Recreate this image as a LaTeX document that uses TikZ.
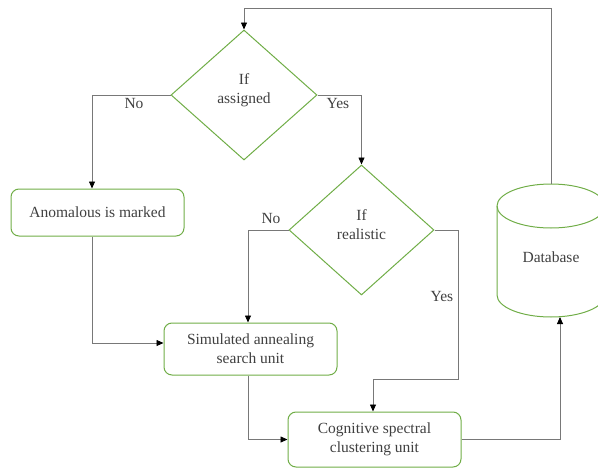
\documentclass[tikz,border=0pt]{standalone}
\usepackage{fontspec}
\setmainfont{Liberation Serif}
\usetikzlibrary{shapes.geometric,arrows.meta}
\definecolor{boxgreen}{RGB}{112,173,71}
\definecolor{txtgray}{RGB}{64,64,64}
\definecolor{linegray}{RGB}{120,120,120}
\tikzset{
  box/.style={draw=boxgreen, line width=1pt, rounded corners=8pt, inner sep=0pt, text=txtgray, align=center, font=\fontsize{15.5}{19}\selectfont},
  decision/.style={draw=boxgreen, line width=1pt, diamond, inner sep=0pt},
  lbl/.style={text=txtgray, align=center, font=\fontsize{15.5}{19}\selectfont, inner sep=0pt},
  conn/.style={draw=linegray, line width=0.8pt, -{Triangle[length=7pt,width=6pt,fill=black,color=black]}},
  plain/.style={draw=linegray, line width=0.8pt}
}
\begin{document}
\begin{tikzpicture}[x=1pt,y=-1pt]
\useasboundingbox (0,0) rectangle (598,469);
% decisions
\node[decision, minimum width=146pt, minimum height=130pt] (d1) at (244,95) {};
\node[lbl] (d1t) at (244,90) {If\\assigned};
\node[decision, minimum width=145pt, minimum height=130pt] (d2) at (361.5,230) {};
\node[lbl] (d2t) at (361.5,225) {If\\realistic};
% boxes
\node[box, minimum width=173pt, minimum height=47pt] (an) at (97.5,212.5) {Anomalous is marked};
\node[box, minimum width=173pt, minimum height=52pt] (sim) at (250.5,349) {Simulated annealing\\search unit};
\node[box, minimum width=173pt, minimum height=55pt] (cog) at (374.5,439.5) {Cognitive spectral\\clustering unit};
% database
\node[lbl, minimum width=108pt, minimum height=133pt] (db) at (551,250.5) {};
\node[lbl] (dbt) at (551,257) {Database};
\draw[draw=boxgreen, line width=1pt] (497,206) arc[x radius=54, y radius=22, start angle=180, end angle=-180];
\draw[draw=boxgreen, line width=1pt] (497,206) -- (497,295) arc[x radius=54, y radius=22, start angle=180, end angle=0] -- (605,206);
\coordinate (dbtop) at (551,184);
\coordinate (dbbot) at (560,317);
% connectors
\draw[conn] (dbtop) -- (551,8) -| (d1.north);
\draw[conn] (d1.west) -| ([xshift=-5.5pt]an.north);
\draw[conn] (d1.east) -| (d2.north);
\draw[conn] (d2.west) -| ([xshift=-2.5pt]sim.north);
\draw[conn] (d2.east) -- (458,230) -- (458,379) -| ([xshift=-1.5pt]cog.north);
\draw[conn] ([xshift=-5.5pt]an.south) |- ([yshift=6pt]sim.west);
\draw[conn] ([xshift=-2.5pt]sim.south) |- (cog.west);
\draw[conn] (cog.east) -| (dbbot);
% labels
\node[lbl] (no1) at (134,103) {No};
\node[lbl] (yes1) at (338,103) {Yes};
\node[lbl] (no2) at (271,218) {No};
\node[lbl] (yes2) at (442,296) {Yes};
\end{tikzpicture}
\end{document}
